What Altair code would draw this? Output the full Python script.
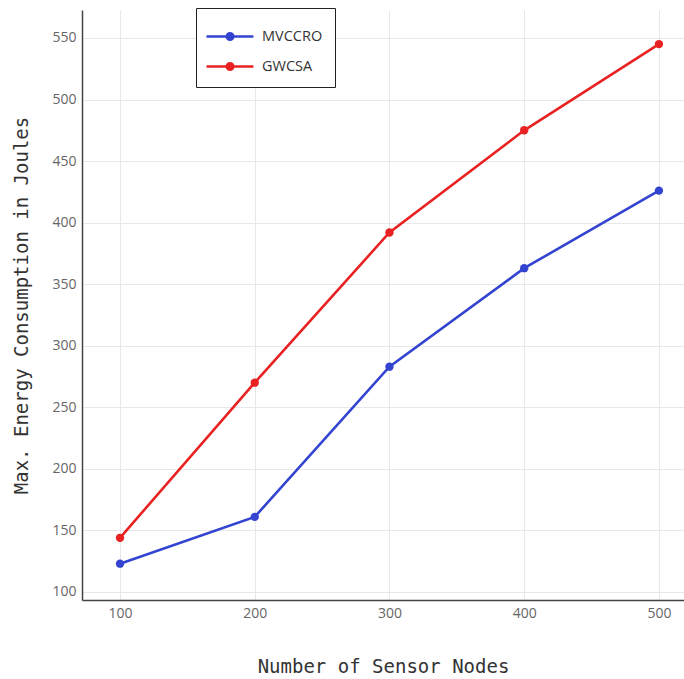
import altair as alt
import pandas as pd

nodes = [100, 200, 300, 400, 500]
mvccro = [123, 161, 283, 363, 426]
gwcsa = [144, 270, 392, 475, 545]
series_names = ["MVCCRO", "GWCSA"]
colors = ["#3344d0", "#e82222"]

rows = []
for n, v in zip(nodes, mvccro):
    rows.append({"nodes": n, "energy": v, "series": "MVCCRO"})
for n, v in zip(nodes, gwcsa):
    rows.append({"nodes": n, "energy": v, "series": "GWCSA"})
df = pd.DataFrame(rows)


def ring(cx, r):
    return f"M{cx - r},0A{r},{r},0,1,1,{cx + r},0A{r},{r},0,1,1,{cx - r},0"


cx = 0.37
sym = "M-1.2,0L1.93,0" + "".join(ring(cx, r) for r in (0.03, 0.1, 0.17, 0.22))

color = alt.Color(
    "series:N",
    scale=alt.Scale(domain=series_names, range=colors),
    sort=series_names,
    legend=alt.Legend(
        title=None,
        orient="none",
        legendX=114,
        legendY=-2,
        strokeColor="#222222",
        padding=12,
        fillColor="white",
        symbolType=sym,
        symbolSize=900,
        symbolStrokeWidth=2.5,
        labelFont="Open Sans",
        labelFontSize=14.5,
        labelColor="#333333",
        labelOffset=21,
        rowPadding=5,
    ),
)

x = alt.X(
    "nodes:Q",
    scale=alt.Scale(domain=[71.8, 518.6], nice=False, zero=False),
    axis=alt.Axis(
        values=nodes,
        title="Number of Sensor Nodes",
        titlePadding=37,
    ),
)
y = alt.Y(
    "energy:Q",
    scale=alt.Scale(domain=[93.5, 572.7], nice=False, zero=False),
    axis=alt.Axis(
        values=[100, 150, 200, 250, 300, 350, 400, 450, 500, 550],
        title="Max. Energy Consumption in Joules",
        titlePadding=20,
    ),
)

lines = alt.Chart(df).mark_line(strokeWidth=2.6).encode(x=x, y=y, color=color)
points = alt.Chart(df).mark_circle(size=70, opacity=1).encode(
    x=x, y=y, color=alt.Color("series:N", scale=alt.Scale(domain=series_names, range=colors), legend=None)
)

chart = (
    alt.layer(lines, points)
    .properties(
        width=602,
        height=590,
        autosize=alt.AutoSizeParams(type="none"),
        padding={"left": 82, "top": 10, "right": 0, "bottom": 79},
        background="white",
    )
    .configure_view(stroke=None)
    .configure_axis(
        grid=True,
        gridColor="#e8e8e8",
        gridWidth=1,
        domainColor="#444444",
        domainWidth=1.5,
        ticks=False,
        labelFont="Open Sans",
        labelFontSize=14,
        labelColor="#666666",
        labelPadding=6,
        titleFont="DejaVu Sans Mono",
        titleFontSize=19,
        titleFontWeight="normal",
        titleColor="#333333",
    )
)

chart.save("out.html", embed_options={"renderer": "svg", "actions": False})
